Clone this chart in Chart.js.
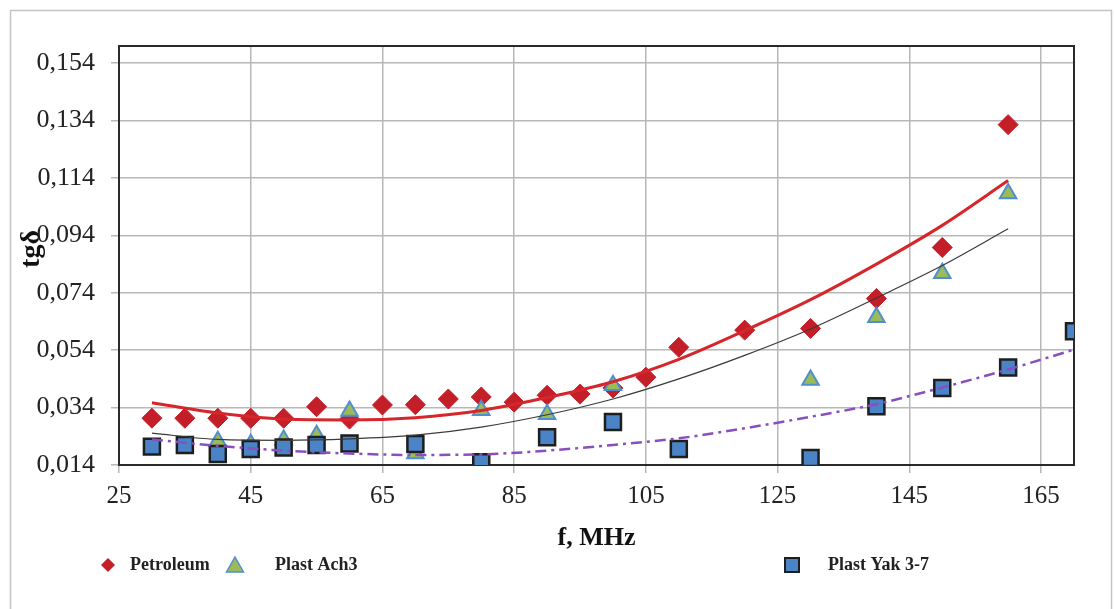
<!DOCTYPE html>
<html>
<head>
<meta charset="utf-8">
<title>tg delta vs frequency</title>
<script src="https://cdn.jsdelivr.net/npm/chart.js"></script>
<style>
  html, body { margin: 0; padding: 0; background: #fff; }
  canvas { display: block; }
</style>
</head>
<body>
<canvas id="ChartCanvas" width="1115" height="609"></canvas>
<script>
// measured points
const petroleumF = [30, 35, 40, 45, 50, 55, 60, 65, 70, 75, 80, 85, 90, 95, 100, 105, 110, 120, 130, 140, 150, 160];
const petroleumTg = [0.0303, 0.0303, 0.0303, 0.0303, 0.0303, 0.0343, 0.0300, 0.0349, 0.0350, 0.0370, 0.0377, 0.0359, 0.0383, 0.0387, 0.0408, 0.0446, 0.0550, 0.0610, 0.0616, 0.0720, 0.0898, 0.1326];

const ach3F = [40, 45, 50, 55, 60, 70, 80, 90, 100, 130, 140, 150, 160];
const ach3Tg = [0.0223, 0.0212, 0.0227, 0.0244, 0.0328, 0.0180, 0.0331, 0.0317, 0.0418, 0.0436, 0.0655, 0.0808, 0.1086];

const yakF = [30, 35, 40, 45, 50, 55, 60, 70, 80, 90, 100, 110, 130, 140, 150, 160, 170];
const yakTg = [0.0204, 0.0210, 0.0178, 0.0196, 0.0201, 0.0210, 0.0215, 0.0213, 0.0150, 0.0237, 0.0290, 0.0196, 0.0164, 0.0345, 0.0408, 0.0480, 0.0606];

// trend lines
const trendF = [30, 40, 50, 60, 70, 80, 90, 100, 110, 120, 130, 140, 150, 160];
const petroleumTrend = [0.0357, 0.0321, 0.0300, 0.0297, 0.0305, 0.0330, 0.0375, 0.0430, 0.0508, 0.0608, 0.0716, 0.0840, 0.0975, 0.1131];
const ach3Trend = [0.0251, 0.0229, 0.0226, 0.0231, 0.0244, 0.0272, 0.0315, 0.0370, 0.0440, 0.0522, 0.0614, 0.0722, 0.0835, 0.0963];
const yakTrendF = [30, 40, 50, 60, 70, 80, 90, 100, 110, 120, 130, 140, 150, 160, 170];
const yakTrend = [0.0229, 0.0207, 0.0190, 0.0180, 0.0175, 0.0177, 0.0190, 0.0210, 0.0233, 0.0268, 0.0308, 0.0352, 0.0410, 0.0473, 0.0542];

const xTicks = [25, 45, 65, 85, 105, 125, 145, 165];
const yTicks = [0.014, 0.034, 0.054, 0.074, 0.094, 0.114, 0.134, 0.154];

const seriesNames = ['Petroleum', 'Plast Ach3', 'Plast Yak 3-7'];

const FONT = '"Liberation Serif", "Times New Roman", serif';
const RED = '#C41F29';
const GREEN = '#9BBB59';
const TRI_EDGE = '#4F8FD0';
const BLUE = '#4A84C6';

function pts(xs, ys) {
  return xs.map((x, i) => ({ x: x, y: ys[i] }));
}

function diamond(ctx, x, y, r) {
  ctx.beginPath();
  ctx.moveTo(x, y - r); ctx.lineTo(x + r, y); ctx.lineTo(x, y + r); ctx.lineTo(x - r, y);
  ctx.closePath();
}

const decorPlugin = {
  id: 'decor',
  beforeDraw(chart) {
    const ctx = chart.ctx;
    ctx.save();
    ctx.fillStyle = '#fff';
    ctx.fillRect(0, 0, chart.width, chart.height);
    ctx.strokeStyle = '#C4C4C4';
    ctx.lineWidth = 1.5;
    ctx.strokeRect(10.5, 10.5, 1101, 640);
    ctx.restore();
  },
  beforeDatasetsDraw(chart) {
    const a = chart.chartArea;
    const ctx = chart.ctx;
    ctx.save();
    ctx.strokeStyle = '#2A2A2A';
    ctx.lineWidth = 2;
    ctx.strokeRect(a.left, a.top, a.right - a.left, a.bottom - a.top);
    ctx.restore();
  },
  afterDraw(chart) {
    const ctx = chart.ctx;
    const a = chart.chartArea;
    ctx.save();
    // axis titles
    ctx.fillStyle = '#111';
    ctx.font = 'bold 26px ' + FONT;
    ctx.textAlign = 'center';
    ctx.textBaseline = 'middle';
    ctx.fillText('f, MHz', (a.left + a.right) / 2, 538);
    ctx.font = 'bold 28px ' + FONT;
    ctx.translate(32, 249);
    ctx.rotate(-Math.PI / 2);
    ctx.fillText('tgδ', 0, 0);
    ctx.restore();

    // legend (only the three marker series)
    ctx.save();
    ctx.font = 'bold 18px ' + FONT;
    ctx.textAlign = 'left';
    ctx.textBaseline = 'middle';
    const ly = 565;
    diamond(ctx, 108, ly, 7);
    ctx.fillStyle = RED; ctx.fill();
    ctx.fillStyle = '#222';
    ctx.fillText(seriesNames[0], 130, ly);

    ctx.beginPath();
    ctx.moveTo(235, ly - 8); ctx.lineTo(243.5, ly + 7); ctx.lineTo(226.5, ly + 7); ctx.closePath();
    ctx.fillStyle = GREEN; ctx.fill();
    ctx.strokeStyle = TRI_EDGE; ctx.lineWidth = 1.5; ctx.stroke();
    ctx.fillStyle = '#222';
    ctx.fillText(seriesNames[1], 275, ly);

    ctx.fillStyle = BLUE;
    ctx.fillRect(785, ly - 7, 14, 14);
    ctx.strokeStyle = '#1E1E1E'; ctx.lineWidth = 2;
    ctx.strokeRect(785, ly - 7, 14, 14);
    ctx.fillStyle = '#222';
    ctx.fillText(seriesNames[2], 828, ly);
    ctx.restore();
  }
};

function drawChart() {
  const myChart = document.getElementById('ChartCanvas');

  new Chart(myChart, {
    type: 'scatter',
    data: {
      datasets: [{
        label: seriesNames[0],
        data: pts(petroleumF, petroleumTg),
        pointStyle: 'rectRot',
        pointRadius: 10,
        pointBackgroundColor: RED,
        pointBorderColor: RED,
        pointBorderWidth: 1,
        showLine: false,
        order: 5
      }, {
        label: seriesNames[1],
        data: pts(ach3F, ach3Tg),
        pointStyle: 'triangle',
        pointRadius: 9.5,
        pointBackgroundColor: GREEN,
        pointBorderColor: TRI_EDGE,
        pointBorderWidth: 2,
        showLine: false,
        order: 4
      }, {
        label: seriesNames[2],
        data: pts(yakF, yakTg),
        pointStyle: 'rect',
        pointRadius: 11.3,
        pointBackgroundColor: BLUE,
        pointBorderColor: '#1E1E1E',
        pointBorderWidth: 2.5,
        showLine: false,
        order: 3
      }, {
        label: 'Petroleum trend',
        data: pts(trendF, petroleumTrend),
        showLine: true,
        borderColor: '#D7262B',
        borderWidth: 3,
        pointRadius: 0,
        cubicInterpolationMode: 'monotone',
        order: 2
      }, {
        label: 'Plast Ach3 trend',
        data: pts(trendF, ach3Trend),
        showLine: true,
        borderColor: '#3A3A3A',
        borderWidth: 1.2,
        pointRadius: 0,
        cubicInterpolationMode: 'monotone',
        order: 1
      }, {
        label: 'Plast Yak 3-7 trend',
        data: pts(yakTrendF, yakTrend),
        showLine: true,
        borderColor: '#8A4FBF',
        borderWidth: 2.5,
        borderDash: [11, 5, 3, 5],
        pointRadius: 0,
        cubicInterpolationMode: 'monotone',
        order: 0
      }]
    },
    options: {
      responsive: false,
      animation: false,
      events: [],
      layout: { padding: { top: 46, right: 41, left: 0, bottom: 0 } },
      plugins: {
        legend: { display: false },
        tooltip: { enabled: false }
      },
      scales: {
        x: {
          type: 'linear',
          min: 25,
          max: 170,
          afterBuildTicks: (s) => { s.ticks = xTicks.map(v => ({ value: v })); },
          afterFit: (s) => { s.height = 144; },
          border: { display: false },
          grid: { color: '#B8B8B8', lineWidth: 1.5, tickLength: 8, tickColor: '#B8B8B8' },
          ticks: {
            padding: 8,
            color: '#222',
            font: { family: FONT, size: 25 },
            callback: (v) => String(v)
          }
        },
        y: {
          type: 'linear',
          min: 0.014,
          max: 0.16,
          afterBuildTicks: (s) => { s.ticks = yTicks.map(v => ({ value: v })); },
          afterFit: (s) => { s.width = 119; },
          border: { display: false },
          grid: { color: '#B8B8B8', lineWidth: 1.5, tickLength: 8, tickColor: '#B8B8B8' },
          ticks: {
            padding: 16,
            color: '#222',
            font: { family: FONT, size: 26 },
            callback: (v) => v.toFixed(3).replace('.', ',')
          }
        }
      }
    },
    plugins: [decorPlugin]
  });
}

document.addEventListener('DOMContentLoaded', () => {
  drawChart();
});
</script>
</body>
</html>
